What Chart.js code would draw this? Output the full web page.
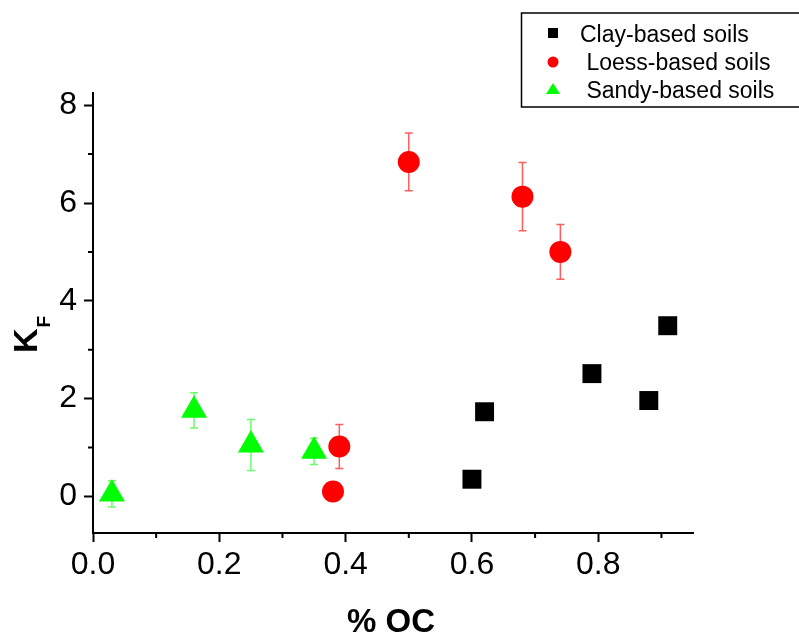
<!DOCTYPE html>
<html>
<head>
<meta charset="utf-8">
<script src="https://cdn.jsdelivr.net/npm/chart.js@4.4.0/dist/chart.umd.min.js"></script>
<style>
  html, body { margin: 0; padding: 0; background: #fff; }
</style>
</head>
<body>
<canvas id="kf-chart" width="799" height="634"></canvas>
<script>
// values
const clayX = [0.60, 0.62, 0.79, 0.88, 0.91]
const clayY = [0.35, 1.73, 2.51, 1.96, 3.49]

const loessX = [0.38, 0.39, 0.50, 0.68, 0.74]
const loessY = [0.10, 1.02, 6.84, 6.13, 5.00]
const loessErr = [0, 0.45, 0.59, 0.70, 0.56]

const sandyX = [0.03, 0.16, 0.25, 0.35]
const sandyY = [0.05, 1.76, 1.05, 0.92]
const sandyErr = [0.27, 0.36, 0.52, 0.27]

const seriesLabels = ['Clay-based soils', ' Loess-based soils', ' Sandy-based soils']
const xTickLabels = ['0.0', '0.2', '0.4', '0.6', '0.8']
const yTickLabels = ['0', '2', '4', '6', '8']
const xTitle = '% OC'
const yTitle = ['K', 'F']

const FONT = "'Liberation Sans', Arial, sans-serif"

function toPoints(xs, ys) {
    return xs.map((x, i) => ({ x: x, y: ys[i] }))
}

// major + minor tick positions (labels only on the even ones)
function tickValues(count, step) {
    const out = []
    for (let i = 0; i < count; i++) out.push({ value: Math.round(i * step * 100) / 100 })
    return out
}

function legendMarker(ctx, style, color, x, y) {
    ctx.fillStyle = color
    ctx.beginPath()
    if (style === 'rect') {
        ctx.rect(x - 5, y - 5, 10, 10)
    } else if (style === 'circle') {
        ctx.arc(x, y, 5.5, 0, Math.PI * 2)
    } else {
        ctx.moveTo(x, y - 7)
        ctx.lineTo(x + 7, y + 4)
        ctx.lineTo(x - 7, y + 4)
        ctx.closePath()
    }
    ctx.fill()
}

const extras = {
    id: 'extras',
    beforeDatasetsDraw(chart) {
        const ctx = chart.ctx
        const xs = chart.scales.x
        const ys = chart.scales.y
        chart.data.datasets.forEach(ds => {
            if (!ds.errors) return
            ctx.save()
            ctx.strokeStyle = ds.errorColor
            ctx.lineWidth = 1.5
            ds.data.forEach((p, i) => {
                const e = ds.errors[i]
                if (!e) return
                const px = xs.getPixelForValue(p.x)
                const top = ys.getPixelForValue(p.y + e)
                const bot = ys.getPixelForValue(p.y - e)
                ctx.beginPath()
                ctx.moveTo(px, top); ctx.lineTo(px, bot)
                ctx.moveTo(px - 4, top); ctx.lineTo(px + 4, top)
                ctx.moveTo(px - 4, bot); ctx.lineTo(px + 4, bot)
                ctx.stroke()
            })
            ctx.restore()
        })
    },
    afterDraw(chart) {
        const ctx = chart.ctx
        const xs = chart.scales.x
        const ys = chart.scales.y
        const area = chart.chartArea
        ctx.save()

        // minor ticks
        ctx.strokeStyle = '#000'
        ctx.lineWidth = 2
        ctx.beginPath()
        xs.ticks.forEach(t => {
            if (Math.round(t.value * 10) % 2 === 1) {
                const px = xs.getPixelForValue(t.value)
                ctx.moveTo(px, area.bottom); ctx.lineTo(px, area.bottom + 5)
            }
        })
        ys.ticks.forEach(t => {
            if (Math.round(t.value) % 2 === 1) {
                const py = ys.getPixelForValue(t.value)
                ctx.moveTo(area.left, py); ctx.lineTo(area.left - 5, py)
            }
        })
        ctx.stroke()

        // axis titles
        ctx.fillStyle = '#000'
        ctx.textAlign = 'center'
        ctx.textBaseline = 'alphabetic'
        ctx.font = 'bold 33px ' + FONT
        ctx.fillText(xTitle, (area.left + area.right) / 2 - 2, 632)

        ctx.save()
        ctx.translate(37, 353)
        ctx.rotate(-Math.PI / 2)
        ctx.textAlign = 'left'
        ctx.font = 'bold 34px ' + FONT
        ctx.fillText(yTitle[0], 0, 0)
        const kw = ctx.measureText(yTitle[0]).width
        ctx.font = 'bold 19px ' + FONT
        ctx.fillText(yTitle[1], kw + 1, 13)
        ctx.restore()

        // legend box
        ctx.lineWidth = 1.5
        ctx.strokeStyle = '#000'
        ctx.strokeRect(521.5, 13, 290, 94)
        const rows = [33, 62, 90]
        const baselines = [42, 70, 98]
        ctx.font = '23px ' + FONT
        ctx.textAlign = 'left'
        chart.data.datasets.forEach((ds, i) => {
            legendMarker(ctx, ds.pointStyle, ds.backgroundColor, 553, rows[i])
            ctx.fillStyle = '#000'
            ctx.fillText(ds.label, 580, baselines[i])
        })
        ctx.restore()
    }
}

function main() {
    const canvas = document.querySelector('#kf-chart')

    new Chart(canvas.getContext('2d'), {
        type: 'scatter',
        data: {
            datasets: [
                {
                    label: seriesLabels[0],
                    data: toPoints(clayX, clayY),
                    pointStyle: 'rect',
                    backgroundColor: '#000000',
                    pointRadius: 13.4,
                    pointBorderWidth: 0
                },
                {
                    label: seriesLabels[1],
                    data: toPoints(loessX, loessY),
                    errors: loessErr,
                    errorColor: 'rgba(255, 40, 40, 0.75)',
                    pointStyle: 'circle',
                    backgroundColor: '#ff0000',
                    pointRadius: 11,
                    pointBorderWidth: 0
                },
                {
                    label: seriesLabels[2],
                    data: toPoints(sandyX, sandyY),
                    errors: sandyErr,
                    errorColor: 'rgba(40, 255, 40, 0.7)',
                    pointStyle: 'triangle',
                    backgroundColor: '#00ff00',
                    pointRadius: 15,
                    pointBorderWidth: 0
                }
            ]
        },
        options: {
            responsive: false,
            animation: false,
            events: [],
            layout: { padding: { top: 93, right: 106, left: 0, bottom: 0 } },
            plugins: {
                legend: { display: false },
                tooltip: { enabled: false }
            },
            scales: {
                x: {
                    type: 'linear',
                    bounds: 'data',
                    min: 0,
                    max: 0.95,
                    afterBuildTicks: scale => { scale.ticks = tickValues(10, 0.1) },
                    afterFit: scale => { scale.height = 101 },
                    border: { display: true, color: '#000', width: 2 },
                    grid: {
                        drawOnChartArea: false,
                        tickLength: 9,
                        tickWidth: 2,
                        tickColor: c => (Math.round(c.tick.value * 10) % 2 === 0 ? '#000' : 'rgba(0,0,0,0)')
                    },
                    ticks: {
                        autoSkip: false,
                        maxRotation: 0,
                        padding: 4,
                        color: '#000',
                        font: { family: FONT, size: 32 },
                        callback: v => {
                            const k = Math.round(v * 10)
                            return k % 2 === 0 ? xTickLabels[k / 2] : ''
                        }
                    }
                },
                y: {
                    type: 'linear',
                    bounds: 'data',
                    min: -0.75,
                    max: 8.25,
                    afterBuildTicks: scale => { scale.ticks = tickValues(9, 1) },
                    afterFit: scale => { scale.width = 93 },
                    border: { display: true, color: '#000', width: 2 },
                    grid: {
                        drawOnChartArea: false,
                        tickLength: 9,
                        tickWidth: 2,
                        tickColor: c => (Math.round(c.tick.value) % 2 === 0 ? '#000' : 'rgba(0,0,0,0)')
                    },
                    ticks: {
                        autoSkip: false,
                        padding: 7,
                        color: '#000',
                        font: { family: FONT, size: 32 },
                        callback: v => {
                            const k = Math.round(v)
                            return k % 2 === 0 ? yTickLabels[k / 2] : ''
                        }
                    }
                }
            }
        },
        plugins: [extras]
    })
}

main()
</script>
</body>
</html>
